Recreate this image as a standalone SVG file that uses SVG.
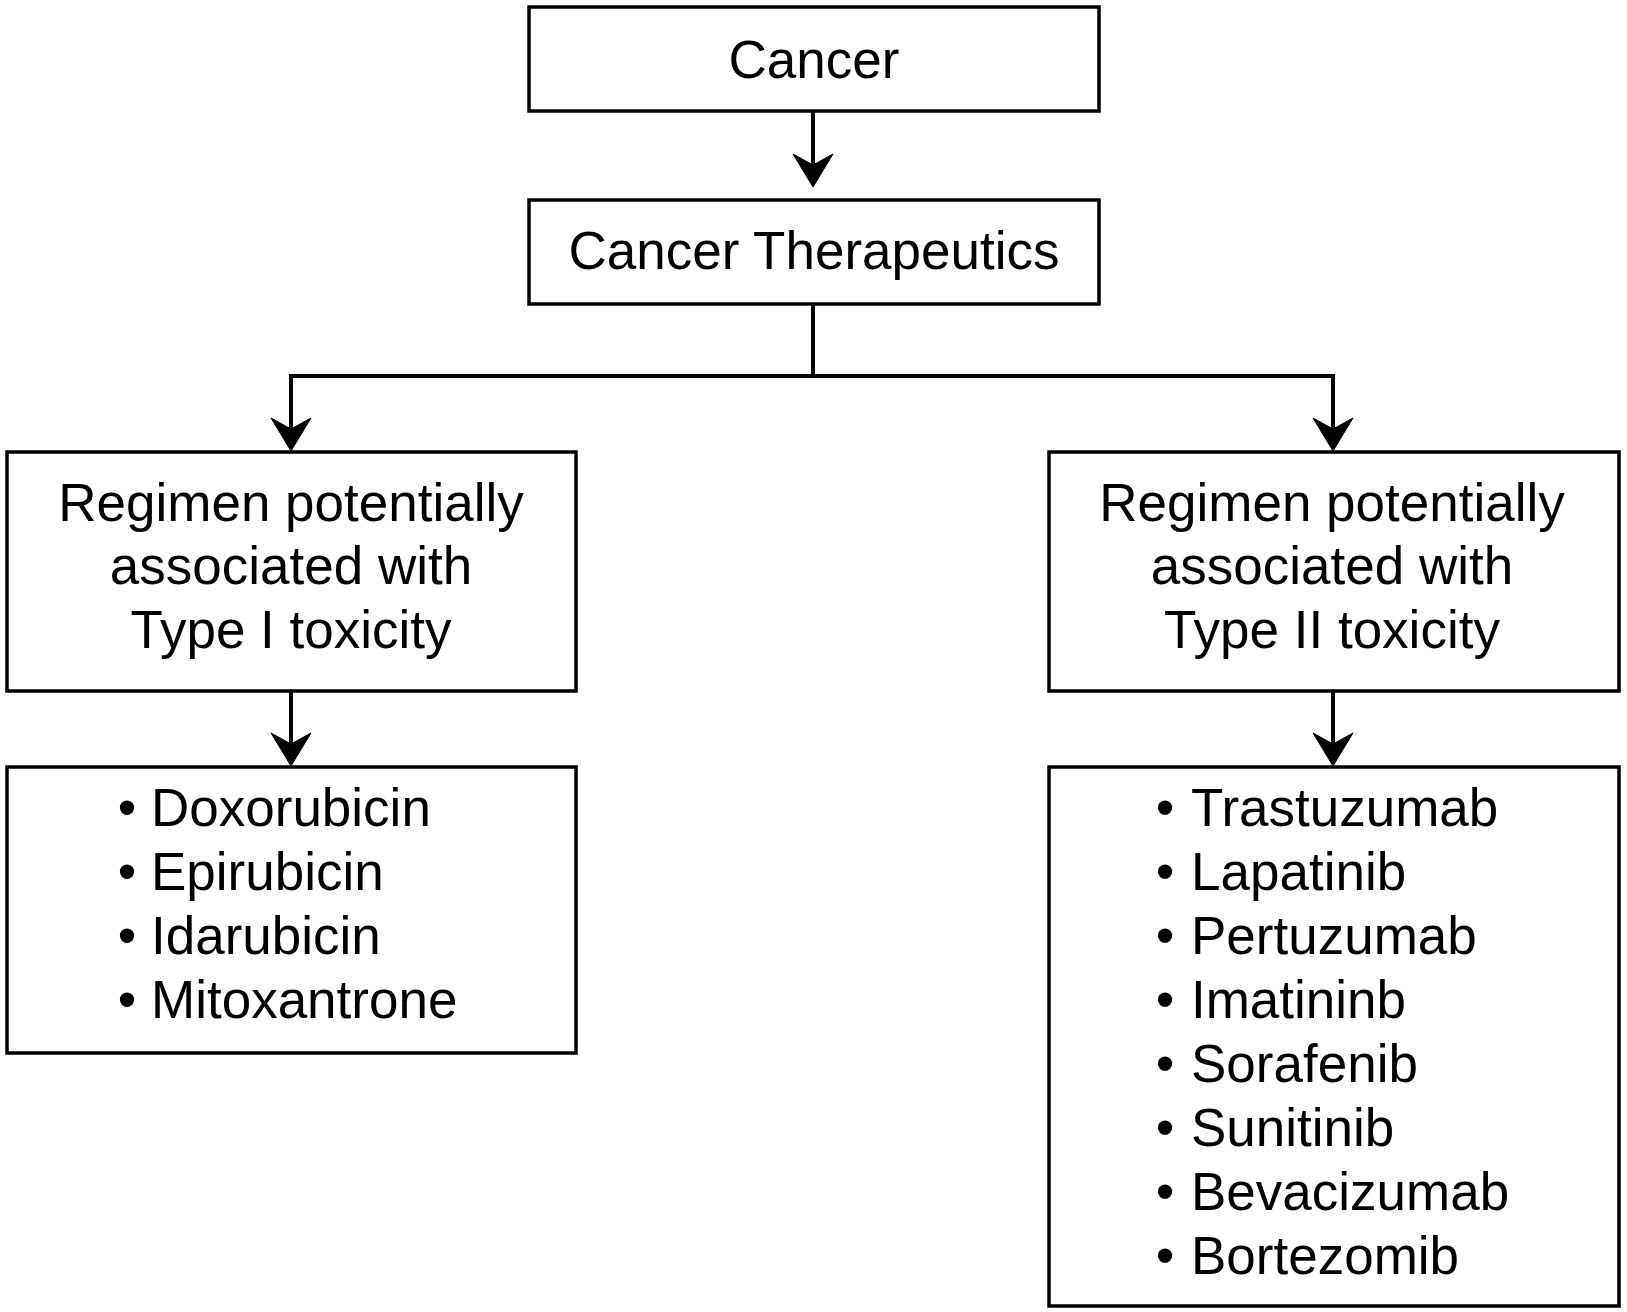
<svg xmlns="http://www.w3.org/2000/svg" xmlns:xlink="http://www.w3.org/1999/xlink" width="1627" height="1312" viewBox="0 0 1627 1312">
<style>
.box{fill:#fff;stroke:#000;stroke-width:3.5}
.t{font-family:"Liberation Sans",Arial,sans-serif;font-size:53px;fill:#000}
.c{text-anchor:middle}
.b{text-anchor:middle}
.conn{fill:none;stroke:#000;stroke-width:4}
.head{fill:#000;stroke:#000;stroke-width:1}
</style>
<defs>
<path id="ah" d="M0,0 L-20,-33 L0,-22 L20,-33 Z"/>
</defs>
<rect width="1627" height="1312" fill="#fff"/>
<g id="connectors">
<line class="conn" x1="813" y1="111" x2="813" y2="168"/>
<use class="head" href="#ah" xlink:href="#ah" x="813" y="187"/>
<line class="conn" x1="813" y1="304" x2="813" y2="376"/>
<polyline class="conn" points="291,432 291,376 1333,376 1333,432"/>
<use class="head" href="#ah" xlink:href="#ah" x="291" y="451"/>
<use class="head" href="#ah" xlink:href="#ah" x="1333" y="451"/>
<line class="conn" x1="291" y1="691" x2="291" y2="747"/>
<use class="head" href="#ah" xlink:href="#ah" x="291" y="766"/>
<line class="conn" x1="1333" y1="691" x2="1333" y2="747"/>
<use class="head" href="#ah" xlink:href="#ah" x="1333" y="766"/>
</g>
<g id="cancer">
<rect class="box" x="529" y="7" width="570" height="104"/>
<text class="t c" x="814" y="78">Cancer</text>
</g>
<g id="therapeutics">
<rect class="box" x="529" y="200" width="570" height="104"/>
<text class="t c" x="814" y="269">Cancer Therapeutics</text>
</g>
<g id="type1">
<rect class="box" x="7" y="452" width="569" height="239"/>
<text class="t c" x="291" y="521">Regimen potentially</text>
<text class="t c" x="291" y="584">associated with</text>
<text class="t c" x="291" y="648">Type I toxicity</text>
</g>
<g id="type2">
<rect class="box" x="1049" y="452" width="570" height="239"/>
<text class="t c" x="1332" y="521">Regimen potentially</text>
<text class="t c" x="1332" y="584">associated with</text>
<text class="t c" x="1332" y="648">Type II toxicity</text>
</g>
<g id="type1-drugs">
<rect class="box" x="7" y="767" width="569" height="286"/>
<text class="t b" x="127" y="826">•</text><text class="t" x="151" y="826">Doxorubicin</text>
<text class="t b" x="127" y="890">•</text><text class="t" x="151" y="890">Epirubicin</text>
<text class="t b" x="127" y="954">•</text><text class="t" x="151" y="954">Idarubicin</text>
<text class="t b" x="127" y="1018">•</text><text class="t" x="151" y="1018">Mitoxantrone</text>
</g>
<g id="type2-drugs">
<rect class="box" x="1049" y="767" width="570" height="539"/>
<text class="t b" x="1165" y="826">•</text><text class="t" x="1191" y="826">Trastuzumab</text>
<text class="t b" x="1165" y="890">•</text><text class="t" x="1191" y="890">Lapatinib</text>
<text class="t b" x="1165" y="954">•</text><text class="t" x="1191" y="954">Pertuzumab</text>
<text class="t b" x="1165" y="1018">•</text><text class="t" x="1191" y="1018">Imatininb</text>
<text class="t b" x="1165" y="1082">•</text><text class="t" x="1191" y="1082">Sorafenib</text>
<text class="t b" x="1165" y="1146">•</text><text class="t" x="1191" y="1146">Sunitinib</text>
<text class="t b" x="1165" y="1210">•</text><text class="t" x="1191" y="1210">Bevacizumab</text>
<text class="t b" x="1165" y="1274">•</text><text class="t" x="1191" y="1274">Bortezomib</text>
</g>
</svg>
